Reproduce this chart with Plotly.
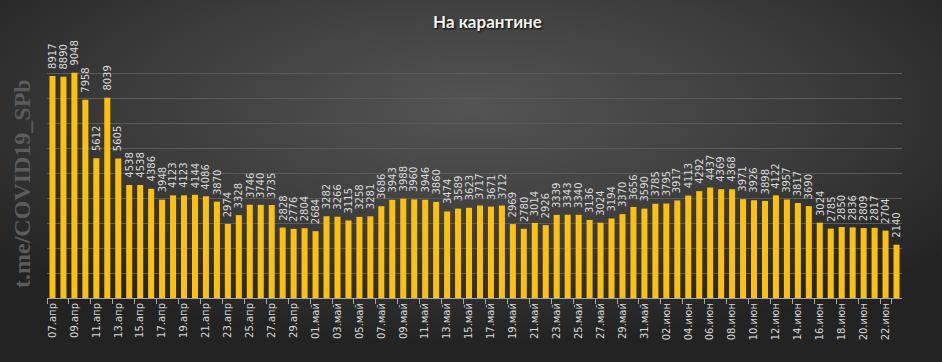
import base64
import plotly.graph_objects as go

apr = [f"{d:02d}.апр" for d in range(7, 31)]
may = [f"{d:02d}.май" for d in range(1, 32)]
jun = [f"{d:02d}.июн" for d in range(1, 24)]
dates = apr + may + jun

values_apr = [8917, 8890, 9048, 7958, 5612, 8039, 5605, 4538, 4538, 4386, 3948, 4123,
              4123, 4144, 4086, 3870, 2974, 3328, 3746, 3740, 3735, 2828, 2776, 2804]
values_may = [2684, 3282, 3266, 3115, 3258, 3281, 3686, 3943, 3988, 3960, 3946, 3860,
              3474, 3589, 3623, 3717, 3671, 3712, 2969, 2780, 3014, 2926, 3339, 3343,
              3340, 3136, 3024, 3194, 3370, 3656, 3590]
values_jun = [3785, 3795, 3917, 4113, 4292, 4437, 4369, 4368, 3971, 3926, 3898, 4122,
              3957, 3817, 3690, 3024, 2785, 2850, 2836, 2809, 2817, 2704, 2140]
values = values_apr + values_may + values_jun

W, H = 942, 362
ML, MR, MT, MB = 47, 40, 49, 64
PW, PH = W - ML - MR, H - MT - MB

svg = (f'<svg xmlns="http://www.w3.org/2000/svg" width="{W}" height="{H}">'
       '<defs><radialGradient id="g" cx="50%" cy="30%" r="65%">'
       '<stop offset="0" stop-color="#545454"/><stop offset="0.55" stop-color="#3c3c3c"/>'
       '<stop offset="1" stop-color="#232323"/></radialGradient></defs>'
       f'<rect width="{W}" height="{H}" fill="url(#g)"/></svg>')
bg = "data:image/svg+xml;base64," + base64.b64encode(svg.encode()).decode()

fig = go.Figure(go.Bar(
    x=dates, y=values,
    marker=dict(color="#FDC010", line=dict(width=0)),
    hoverinfo="x+y",
))

value_labels = [
    dict(x=d, y=v, xref="x", yref="y", text=str(v), showarrow=False,
         textangle=-90, xanchor="center", yanchor="bottom", yshift=5,
         font=dict(family="DejaVu Sans", size=10, color="#d9d9d9"))
    for d, v in zip(dates, values)
]

fig.update_layout(
    width=W, height=H,
    margin=dict(l=ML, r=MR, t=MT, b=MB),
    paper_bgcolor="#333333",
    plot_bgcolor="rgba(0,0,0,0)",
    bargap=0.45,
    showlegend=False,
    images=[dict(source=bg, xref="paper", yref="paper",
                 x=-ML / PW, y=1 + MT / PH, sizex=W / PW, sizey=H / PH,
                 xanchor="left", yanchor="top", sizing="stretch", layer="below")],
    annotations=[
        dict(text="На карантине", xref="paper", yref="paper",
             x=(487 - ML) / PW, y=1 + (MT - 22) / PH, showarrow=False,
             xanchor="center", yanchor="middle",
             font=dict(family="Lato", size=17, color="#f2f2f2",
                       weight="bold", shadow="1px 1px 2px #000000")),
        dict(text="t.me/COVID19_SPb", xref="paper", yref="paper",
             x=(22 - ML) / PW, y=(PH - (184 - MT)) / PH, showarrow=False,
             textangle=-90, xanchor="center", yanchor="middle",
             font=dict(family="Liberation Serif", size=24, color="#5c5c5c",
                       weight="bold")),
    ] + value_labels,
    xaxis=dict(
        type="category",
        tickmode="array", tickvals=dates[::2], ticktext=dates[::2],
        tickangle=-90,
        tickfont=dict(family="DejaVu Sans", size=10, color="#d9d9d9"),
        ticks="outside", ticklen=5, tickcolor="#a6a6a6", tickson="boundaries",
        showline=True, linecolor="#a6a6a6", linewidth=1,
        showgrid=False, range=[-0.5, len(dates) - 0.5],
    ),
    yaxis=dict(
        range=[0, 10000], dtick=1000, showticklabels=False,
        showgrid=True, gridcolor="#5a5a5a", gridwidth=1,
        zeroline=False, showline=False, ticks="",
    ),
)

fig.write_html("out.html", config={"displayModeBar": False},
               post_script="document.body.style.margin='0';")
